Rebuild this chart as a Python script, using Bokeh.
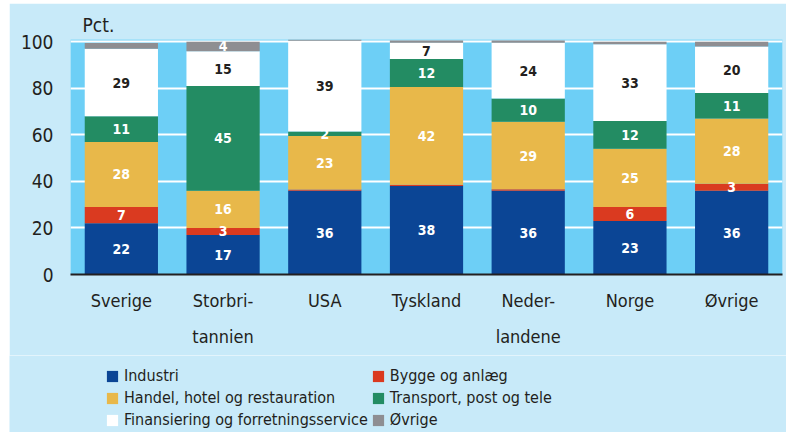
from bokeh.plotting import figure
from bokeh.models import (ColumnDataSource, Legend, LegendItem, CategoricalAxis,
                          FixedTicker, Title, LabelSet, Range1d, FactorRange, Spacer)
from bokeh.layouts import column, row
from bokeh.core.properties import value
from bokeh.embed import file_html
from bokeh.resources import INLINE

FONT = "DejaVu Sans Condensed"
TXT = "#231f20"
OUTER = "#c8eaf9"

countries = ["Sverige", "Storbritannien", "USA", "Tyskland", "Nederlandene", "Norge", "Øvrige"]
label_line1 = ["Sverige", "Storbri-", "USA", "Tyskland", "Neder-", "Norge", "Øvrige"]
label_line2 = ["", "tannien", "", "", "landene", "", ""]

series_names = ["Industri", "Bygge og anlæg", "Handel, hotel og restauration",
                "Transport, post og tele", "Finansiering og forretningsservice", "Øvrige"]
industri = [22, 17, 36, 38, 36, 23, 36]
bygge = [7, 3, 0.5, 0.6, 0.6, 6, 3]
handel = [28, 16, 23, 42, 29, 25, 28]
transport = [11, 45, 2, 12, 10, 12, 11]
finans = [29, 15, 39, 7, 24, 33, 20]
ovrige = [2.5, 4, 0.8, 1, 1, 1, 2]

colors = ["#0b4595", "#da3a20", "#e8b84a", "#238c63", "#ffffff", "#8e8e92"]
text_colors = ["white", "white", "white", "white", TXT, "white"]
min_label = [2, 2, 2, 2, 2, 4]

yticks = [0, 20, 40, 60, 80, 100]

keys = ["s0", "s1", "s2", "s3", "s4", "s5"]
all_series = [industri, bygge, handel, transport, finans, ovrige]
data = {"country": countries}
for k, s in zip(keys, all_series):
    data[k] = s
source = ColumnDataSource(data)

# unique factor names for the second label line (blank entries made distinct)
line2_factors = [s if s else " " * (i + 1) for i, s in enumerate(label_line2)]

p = figure(x_range=countries, y_range=Range1d(0, 101), width=777, height=352,
           output_backend="svg", toolbar_location=None, x_axis_location=None,
           min_border_left=61, min_border_right=4, min_border_top=36, min_border_bottom=81)
p.extra_x_ranges = {"l1": FactorRange(factors=label_line1),
                    "l2": FactorRange(factors=line2_factors)}
p.background_fill_color = "#6dcff6"
p.border_fill_color = OUTER
p.outline_line_color = None

renderers = p.vbar_stack(keys, x="country", width=0.72, color=colors, source=source,
                         line_color=None)

# segment labels
lx, ly, lt, lc = [], [], [], []
for i, c in enumerate(countries):
    base = 0
    for j, s in enumerate(all_series):
        v = s[i]
        if v >= min_label[j]:
            lx.append(c)
            ly.append(base + v / 2)
            lt.append(str(int(round(v))))
            lc.append(text_colors[j])
        base += v
lab_src = ColumnDataSource(dict(x=lx, y=ly, text=lt, color=lc))
p.add_layout(LabelSet(x="x", y="y", text="text", source=lab_src, text_color="color",
                      text_font=value(FONT), text_font_style="bold", text_font_size="14px",
                      text_align="center", text_baseline="middle"))

# grid
p.xgrid.grid_line_color = None
p.ygrid.grid_line_color = "white"
p.ygrid.grid_line_width = 2
p.ygrid.ticker = FixedTicker(ticks=yticks)

# y axis
p.yaxis.ticker = FixedTicker(ticks=yticks)
p.yaxis.axis_line_color = None
p.yaxis.major_tick_line_color = None
p.yaxis.minor_tick_line_color = None
p.yaxis.major_label_text_font = FONT
p.yaxis.major_label_text_font_size = "19px"
p.yaxis.major_label_text_color = TXT
p.yaxis.major_label_standoff = 11


def cat_axis(rng, standoff, line_color):
    ax = CategoricalAxis(x_range_name=rng)
    ax.axis_line_color = line_color
    ax.axis_line_width = 2
    ax.major_tick_line_color = None
    ax.minor_tick_line_color = None
    ax.major_label_text_font = FONT
    ax.major_label_text_font_size = "18px"
    ax.major_label_text_color = TXT
    ax.major_label_standoff = standoff
    return ax


p.add_layout(cat_axis("l1", 9, TXT), "below")
p.add_layout(cat_axis("l2", 6, None), "below")

# title
p.add_layout(Title(text="Pct.", text_font=FONT, text_font_size="19px", text_font_style="normal",
                   text_color=TXT, align="left", offset=12, standoff=8), "above")

# legend in its own strip below the chart
lg = figure(width=777, height=77, x_range=Range1d(0, 1), y_range=Range1d(0, 1),
            output_backend="svg", toolbar_location=None,
            min_border_left=0, min_border_right=0, min_border_top=0, min_border_bottom=0)
lg.frame_align = False
lg.axis.visible = False
lg.grid.visible = False
lg.outline_line_color = None
lg.background_fill_color = OUTER
lg.border_fill_color = OUTER
nan = float("nan")
dummy = [lg.vbar(x=[nan], top=[nan], width=0.1, color=c, line_color=None) for c in colors]
items = [LegendItem(label=n, renderers=[r]) for n, r in zip(series_names, dummy)]
# legend fills column by column: reorder so rows read pairwise as in the original
order = [0, 2, 4, 1, 3, 5]
legend = Legend(items=[items[i] for i in order], ncols=2, location=(96, 3), padding=0,
                margin=0, spacing=3,
                glyph_width=14, glyph_height=14, label_standoff=5, label_height=19,
                label_text_font=FONT, label_text_font_size="16px", label_text_color=TXT,
                background_fill_alpha=0, border_line_alpha=0)
lg.add_layout(legend, "center")

layout = column(Spacer(height=3), row(Spacer(width=9), column(p, lg)))
open("out.html", "w").write(file_html(layout, INLINE))
